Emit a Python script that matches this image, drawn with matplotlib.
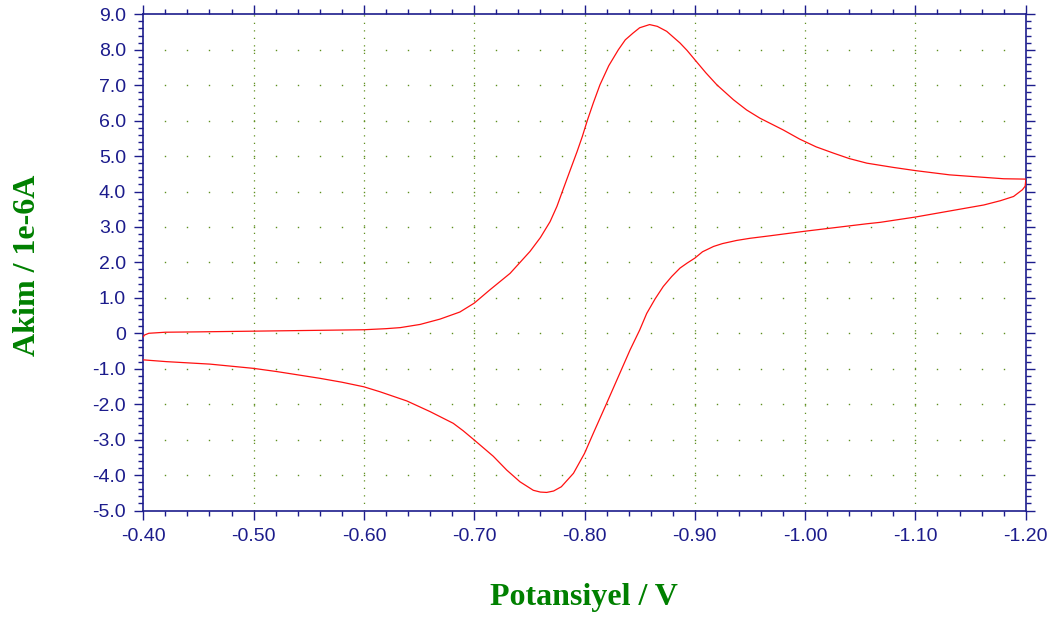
import numpy as np
import matplotlib
matplotlib.use("Agg")
import matplotlib.pyplot as plt
from matplotlib.ticker import MultipleLocator, FuncFormatter

# Forward scan (-0.40 V -> -1.20 V)
fwd_v = [-0.400, -0.401, -0.405, -0.420, -0.450, -0.500, -0.550, -0.600, -0.620, -0.633,
         -0.651, -0.669, -0.687, -0.700, -0.714, -0.7325, -0.7506, -0.760, -0.7688, -0.775,
         -0.7805, -0.787, -0.7932, -0.798, -0.8025, -0.808, -0.814, -0.822, -0.8307, -0.837,
         -0.844, -0.850, -0.859, -0.866, -0.8745, -0.880, -0.8866, -0.893, -0.900, -0.910,
         -0.920, -0.935, -0.947, -0.959, -0.980, -0.995, -1.010, -1.026, -1.040, -1.056,
         -1.080, -1.100, -1.131, -1.162, -1.180, -1.200]
fwd_i = [-0.10, -0.05, 0.00, 0.03, 0.04, 0.06, 0.08, 0.10, 0.13, 0.16,
         0.25, 0.40, 0.60, 0.85, 1.22, 1.69, 2.31, 2.70, 3.15, 3.58,
         4.05, 4.60, 5.12, 5.55, 6.00, 6.50, 7.01, 7.55, 8.00, 8.28,
         8.47, 8.62, 8.71, 8.66, 8.52, 8.37, 8.19, 7.98, 7.72, 7.35,
         7.01, 6.59, 6.30, 6.07, 5.74, 5.48, 5.26, 5.08, 4.93, 4.80,
         4.68, 4.59, 4.47, 4.40, 4.36, 4.35]

# Reverse scan (-1.20 V -> -0.40 V)
rev_v = [-1.200, -1.1995, -1.197, -1.189, -1.177, -1.162, -1.131, -1.100, -1.068, -1.056,
         -1.000, -0.968, -0.950, -0.938, -0.925, -0.917, -0.907, -0.900, -0.893, -0.8866,
         -0.879, -0.8714, -0.864, -0.8564, -0.850, -0.8413, -0.832, -0.820, -0.808, -0.800,
         -0.790, -0.779, -0.772, -0.7657, -0.760, -0.7536, -0.7415, -0.7295, -0.7173, -0.700,
         -0.690, -0.681, -0.660, -0.639, -0.6146, -0.600, -0.580, -0.560, -0.521, -0.500,
         -0.4605, -0.421, -0.400]
rev_i = [4.30, 4.15, 4.05, 3.86, 3.74, 3.62, 3.45, 3.28, 3.13, 3.09,
         2.88, 2.75, 2.68, 2.62, 2.53, 2.45, 2.30, 2.12, 1.98, 1.84,
         1.60, 1.32, 0.97, 0.56, 0.09, -0.47, -1.13, -1.98, -2.82, -3.39,
         -3.95, -4.33, -4.45, -4.49, -4.48, -4.43, -4.19, -3.86, -3.47, -3.01,
         -2.75, -2.54, -2.21, -1.91, -1.65, -1.51, -1.38, -1.27, -1.08, -0.99,
         -0.87, -0.80, -0.75]

x_label = "Potansiyel / V"
y_label = "Akim / 1e-6A"

plt.rcParams['axes.unicode_minus'] = False
navy = '#1c1c8c'
green = '#008000'
gridc = '#5f8f1f'

fig = plt.figure(figsize=(10.56, 6.19), dpi=100)
ax = fig.add_axes([143.3/1056, 1-510.5/619, (1025.7-143.3)/1056, (510.5-14.3)/619])

ax.set_xlim(-0.40, -1.20)
ax.set_ylim(-5.0, 9.0)

# grid: vertical dotted lines at majors, dots at minor x for each integer y
for xv in np.arange(-0.5, -1.15, -0.1):
    ax.axvline(xv, color=gridc, lw=0.9, linestyle=(0, (1, 5)), zorder=1)
gx = np.arange(-0.42, -1.19, -0.02)
for yv in range(-4, 9):
    ax.plot(gx, np.full_like(gx, yv), linestyle='none', marker='s', markersize=1.0,
            markeredgewidth=0, color=gridc, zorder=1)

ax.plot(fwd_v, fwd_i, color='#ff1010', lw=0.9, zorder=3)
ax.plot(rev_v, rev_i, color='#ff1010', lw=0.9, zorder=3)

ax.xaxis.set_major_locator(MultipleLocator(0.1))
ax.xaxis.set_minor_locator(MultipleLocator(0.02))
ax.yaxis.set_major_locator(MultipleLocator(1.0))
ax.yaxis.set_minor_locator(MultipleLocator(0.2))
ax.xaxis.set_major_formatter(FuncFormatter(lambda v, p: "%.2f" % v))
ax.yaxis.set_major_formatter(FuncFormatter(lambda v, p: "0" if abs(v) < 1e-9 else "%.1f" % v))

ax.tick_params(which='both', direction='out', colors=navy, top=True, right=True,
               labeltop=False, labelright=False, width=1.0)
ax.tick_params(which='major', length=6.5, pad=6)
ax.tick_params(which='minor', length=3.5)
for lab in ax.get_xticklabels() + ax.get_yticklabels():
    lab.set_fontfamily('Liberation Sans')
    lab.set_fontsize(14)
    lab.set_color(navy)
for s in ax.spines.values():
    s.set_color(navy)
    s.set_linewidth(1.2)

fig.text(584/1056, 1-597/619, x_label, ha='center', va='center', fontsize=23,
         fontweight='bold', family='Liberation Serif', color=green)
fig.text(28/1056, 1-265/619, y_label, ha='center', va='center', rotation=90, fontsize=23,
         fontweight='bold', family='Liberation Serif', color=green)

fig.savefig('out.png', dpi=100)
